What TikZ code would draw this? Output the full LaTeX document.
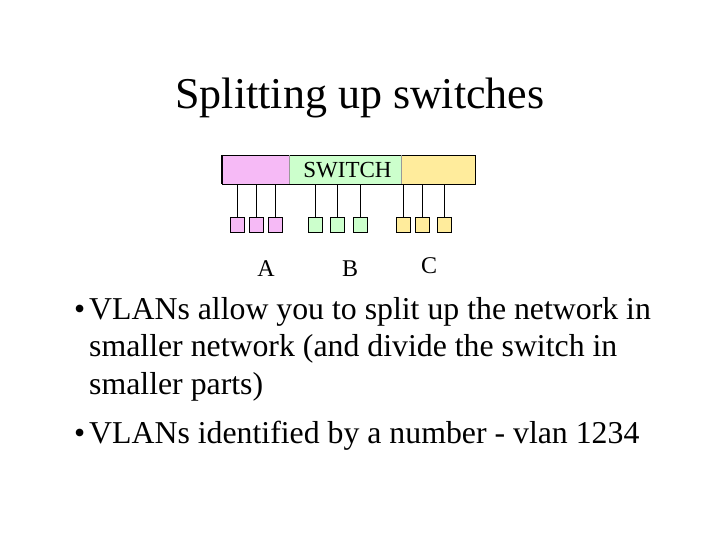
\documentclass[tikz,border=0pt]{standalone}
\usepackage{fontspec}
\setmainfont{Liberation Serif}
\definecolor{vpink}{RGB}{246,186,246}
\definecolor{vgreen}{RGB}{204,255,204}
\definecolor{vyellow}{RGB}{255,236,156}
\begin{document}
\begin{tikzpicture}[x=1pt,y=-1pt,
  seg/.style={rectangle,inner sep=0pt,minimum height=29pt,anchor=north west,draw=none},
  port/.style={rectangle,draw=black,line width=1pt,inner sep=0pt,minimum width=14pt,minimum height=14.5pt},
  wire/.style={draw=black,line width=1pt},
  lbl/.style={font=\fontsize{24}{28}\selectfont,anchor=base,inner sep=0pt},
  btext/.style={font=\fontsize{31.8}{37}\selectfont,anchor=base west,inner sep=0pt}]
\useasboundingbox (0,0) rectangle (720,540);
\fill[white] (0,0) rectangle (720,540);
% title
\node[font=\fontsize{44}{50}\selectfont,anchor=base,inner sep=0pt] (title) at (360,109) {Splitting up switches};
% switch
\node[seg,fill=vpink,minimum width=67pt] (swA) at (222,155) {};
\node[seg,fill=vgreen,minimum width=112pt] (swB) at (289,155) {};
\node[seg,fill=vyellow,minimum width=74pt] (swC) at (401,155) {};
\node[font=\fontsize{23}{27}\selectfont,anchor=base,inner sep=0pt] (swlabel) at (347.5,178) {SWITCH};
\draw[line width=0.9pt] (swA.south west) rectangle (swC.north east);
\draw[line width=2pt] (swA.north west) -- (swA.south west);
\draw[line width=1.6pt] (swA.south west) -- (swC.south east);
\draw[line width=0.5pt,black!40] (swB.north west) -- (swB.south west);
\draw[line width=0.5pt,black!40] (swB.north east) -- (swB.south east);
% ports
\foreach \n/\x/\c/\s in {a1/237.5/vpink/swA,a2/256.5/vpink/swA,a3/275.5/vpink/swA,
                        b1/315.5/vgreen/swB,b2/337/vgreen/swB,b3/360/vgreen/swB,
                        c1/403/vyellow/swC,c2/422.5/vyellow/swC,c3/444.5/vyellow/swC}{
  \node[port,fill=\c] (\n) at (\x,225) {};
  \draw[wire] (\n.north) -- (\n.north |- \s.south);
}
\node[lbl] (labA) at (266,276) {A};
\node[lbl] (labB) at (350,276) {B};
\node[lbl] (labC) at (429,273) {C};
% bullets
\node[btext] (b1) at (74,319) {•};
\node[btext] (t1) at (89,319) {VLANs allow you to split up the network in};
\node[btext] (t2) at (89,356.5) {smaller network (and divide the switch in};
\node[btext] (t3) at (89,394) {smaller parts)};
\node[btext] (b2) at (74,443) {•};
\node[btext] (t4) at (89,443) {VLANs identified by a number - vlan 1234};
\end{tikzpicture}
\end{document}
